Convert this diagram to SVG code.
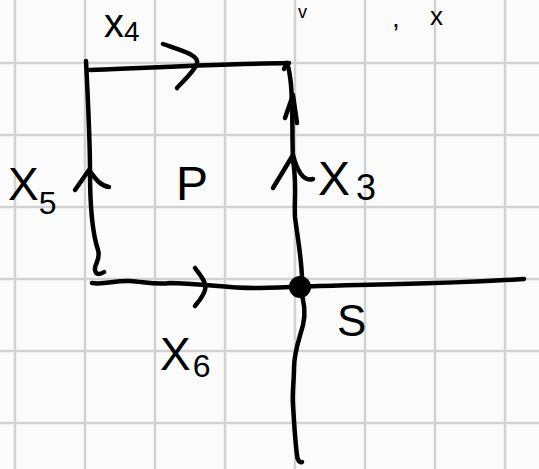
<svg xmlns="http://www.w3.org/2000/svg" width="539" height="469" viewBox="0 0 539 469">
<style>
.grid{stroke:#d2d2d2;stroke-width:2.5;fill:none}
.ink{stroke:#000;stroke-width:4.5;fill:none;stroke-linecap:round;stroke-linejoin:round}
.lbl{font-family:"Liberation Sans",Arial,sans-serif;fill:#000}
</style>
<rect width="539" height="469" fill="#fbfbfb"/>
<g id="grid" class="grid">
<path d="M15,0V469M85,0V469M155,0V469M225,0V469M295,0V469M365,0V469M435,0V469M505,0V469"/>
<path d="M0,63H539M0,135H539M0,207H539M0,279H539M0,351H539M0,423H539"/>
</g>
<g id="connectors" class="ink">
<path id="top-edge" d="M90,70 C140,68 220,64 289,63"/>
<path id="left-edge" d="M86,61 C88,100 90,140 90,172 C90,205 92,232 98,250 C101,260 94,264 95,270 C96,276 101,274 104,272"/>
<path id="right-edge" d="M302,286 C303,265 297,235 295,217 C294,200 297,185 293,160 C292,140 293,110 291,85 C290,75 289,68 287,63"/>
<path id="bottom-edge" d="M92,283 C105,285 115,280 130,281 C145,282 155,285 170,283 C200,283 230,289 260,288 C300,287 340,285 400,284 C450,283 490,281 524,279"/>
<path id="down-edge" d="M300,290 C304,300 306,312 303,325 C299,340 294,352 294,368 C294,382 292,392 293,405 C294,422 295,440 297,455 C297,460 300,463 302,462"/>
<path id="arrow-top" d="M163,44 C180,50 200,55 197,64 C192,74 182,82 177,88"/>
<path id="arrow-bottom" d="M195,268 C200,275 207,282 205,290 C203,297 198,302 195,306"/>
<path id="arrow-left" d="M75,190 L89,170 C95,178 100,186 109,187"/>
<path id="arrow-right" d="M273,188 L293,155 C297,170 303,182 313,179"/>
<path id="arrow-right-top" d="M285,118 L293,95 L297,123"/>
<path d="M287,63 l-3,6"/>
</g>
<g id="node-S">
<circle cx="300" cy="287" r="11" fill="#000"/>
<text class="lbl" x="337" y="336" font-size="44">S</text>
</g>
<g id="node-P">
<text class="lbl" x="176" y="200" font-size="48">P</text>
</g>
<g id="label-x4">
<text class="lbl" x="104" y="37" font-size="40">x<tspan font-size="28" dy="4">4</tspan></text>
</g>
<g id="label-x5">
<text class="lbl" x="8" y="200" font-size="46">X<tspan font-size="32" dy="14">5</tspan></text>
</g>
<g id="label-x3">
<text class="lbl" x="318" y="195" font-size="48">X<tspan font-size="36" dx="6" dy="5">3</tspan></text>
</g>
<g id="label-x6">
<text class="lbl" x="160" y="370" font-size="46">X<tspan font-size="32" dx="2" dy="7">6</tspan></text>
</g>
<g id="top-fragment">
<text class="lbl" x="298" y="18" font-size="18">v</text>
<text class="lbl" x="392" y="27" font-size="28">,</text>
<text class="lbl" x="430" y="25" font-size="26">x</text>
</g>
</svg>
